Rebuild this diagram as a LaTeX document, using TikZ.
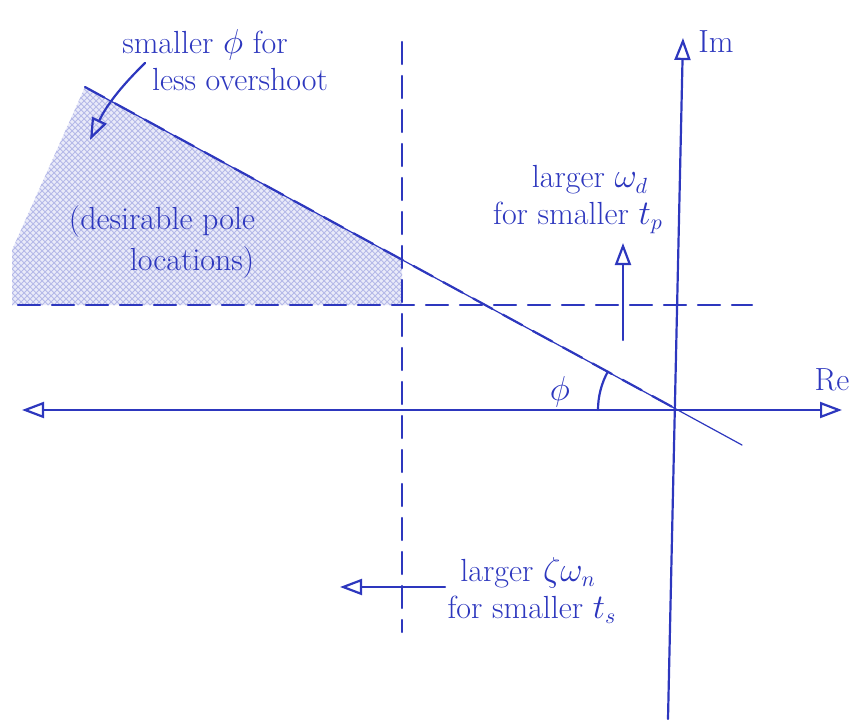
\documentclass[tikz,border=0pt]{standalone}
\usetikzlibrary{arrows.meta,patterns}
\definecolor{ink}{RGB}{45,55,190}
\begin{document}
\begin{tikzpicture}[x=0.5pt,y=-0.5pt,
  pen/.style={draw=ink,line width=1.1pt,line cap=round},
  dashpen/.style={pen,dash pattern=on 11pt off 6pt},
  openhead/.style={-{Triangle[open,length=11pt,width=8pt,line width=1.1pt]}},
  lbl/.style={text=ink,font=\fontsize{16}{19}\selectfont,inner sep=1pt}]
\useasboundingbox (0,0) rectangle (853,719);
% key points
\coordinate (O) at (678,410);
\coordinate (reL) at (22,410);
\coordinate (reR) at (842,410);
\coordinate (imT) at (683,38);
\coordinate (imB) at (668,719);
\coordinate (dT) at (85,87);
\coordinate (dX) at (402,260);
\coordinate (dE) at (742,445);
\coordinate (vT) at (402,42);
\coordinate (vB) at (402,632);
\coordinate (hL) at (18,305);
\coordinate (hR) at (752,305);
\coordinate (hX) at (402,305);
% shaded region
\fill[ink!10] (dT) -- (dX) -- (hX) -- (12,305) -- (12,250) -- cycle;
\fill[pattern=crosshatch,pattern color=ink!35] (dT) -- (dX) -- (hX) -- (12,305) -- (12,250) -- cycle;
% axes
\draw[pen,openhead] (O) -- (reR);
\draw[pen,openhead] (O) -- (reL);
\draw[pen,openhead] (imB) -- (imT);
% dashed boundaries
\draw[dashpen] (vT) -- (vB);
\draw[dashpen] (hL) -- (hR);
\draw[pen,line width=0.6pt] (dT) -- (dE);
\draw[dashpen] (dT) -- (O);
% angle phi
\coordinate (a1) at (598,410);
\draw[pen] (a1) arc[start angle=180,end angle=151.4,radius=40pt];
\node[lbl] (phi) at (560,392) {$\phi$};
% labels
\node[lbl] (Re) at (832,380) {Re};
\node[lbl] (Im) at (716,42) {Im};
\node[lbl] (t1) at (205,45) {smaller $\phi$ for};
\node[lbl] (t2) at (240,80) {less overshoot};
\node[lbl] (t3) at (162,222) {(desirable pole};
\node[lbl] (t4) at (192,263) {locations)};
\node[lbl] (t5) at (590,180) {larger $\omega_d$};
\node[lbl] (t6) at (578,218) {for smaller $t_p$};
\node[lbl] (t7) at (528,573) {larger $\zeta\omega_n$};
\node[lbl] (t8) at (532,610) {for smaller $t_s$};
% arrows
\coordinate (c1) at (145,63);
\coordinate (c2) at (90,140);
\draw[pen,openhead] (c1) to[bend right=10] (c2);
\coordinate (u1) at (623,340);
\coordinate (u2) at (623,243);
\draw[pen,openhead] (u1) -- (u2);
\coordinate (l1) at (445,587);
\coordinate (l2) at (340,587);
\draw[pen,openhead] (l1) -- (l2);
\end{tikzpicture}
\end{document}
